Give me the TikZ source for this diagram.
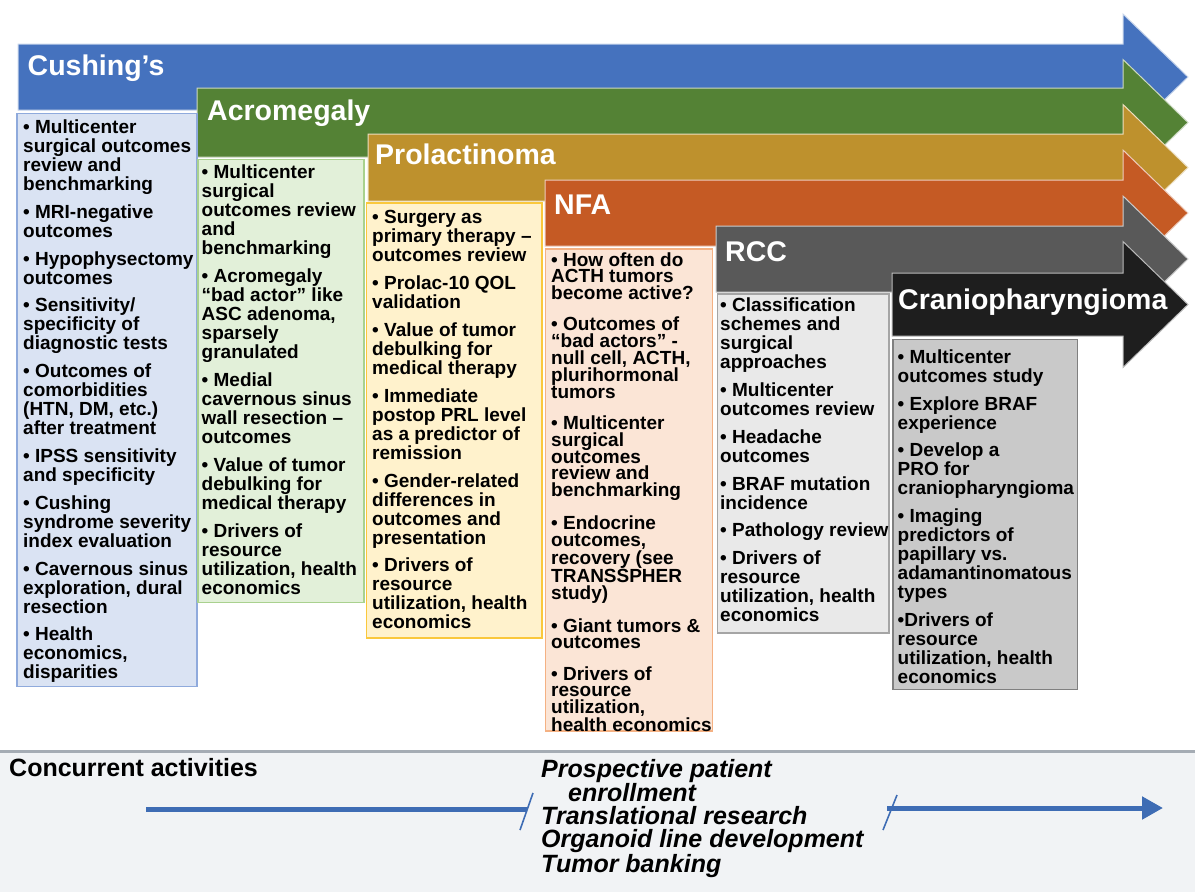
\documentclass[tikz,border=0pt]{standalone}
\usepackage{fontspec}
\setmainfont{Liberation Sans}
\usetikzlibrary{arrows.meta}

% band colours
\definecolor{cushblue}{RGB}{69,114,190}
\definecolor{acrogreen}{RGB}{84,130,53}
\definecolor{prolgold}{RGB}{190,145,45}
\definecolor{nfaorange}{RGB}{197,90,36}
\definecolor{rccgray}{RGB}{89,89,89}
\definecolor{cranblack}{RGB}{30,30,30}
% panel colours
\definecolor{cushfill}{RGB}{218,227,243}
\definecolor{cushline}{RGB}{143,170,220}
\definecolor{acrofill}{RGB}{226,240,217}
\definecolor{acroline}{RGB}{169,209,142}
\definecolor{prolfill}{RGB}{255,242,204}
\definecolor{prolline}{RGB}{250,200,60}
\definecolor{nfafill}{RGB}{251,229,214}
\definecolor{nfaline}{RGB}{244,177,131}
\definecolor{rccfill}{RGB}{233,233,233}
\definecolor{rccline}{RGB}{165,165,165}
\definecolor{cranfill}{RGB}{201,201,201}
\definecolor{cranline}{RGB}{128,128,128}
% concurrent activities strip
\definecolor{stripfill}{RGB}{241,243,245}
\definecolor{stripline}{RGB}{165,172,180}
\definecolor{flowblue}{RGB}{62,108,180}

\newcommand{\gapstd}{8.8pt}
\newcommand{\gapnfa}{14.5pt}
% a list whose reference point is the baseline of its first line
\newcommand{\toplist}[2][230pt]{\parbox[t]{#1}{\raggedright #2}}

% one stepped band ending in an arrow head: colour, left x, top y, bottom y
\newcommand{\trackband}[4]{%
  \fill[#1, draw=white!70!#1, line width=1pt]
    (#2,#3) -- (1123,#3) -- (1123,{(#3+#4)/2-63}) -- (1188,{(#3+#4)/2})
    -- (1123,{(#3+#4)/2+63}) -- (1123,#4) -- (#2,#4) -- cycle;}

\tikzset{
  head/.style={anchor=base west, inner sep=0pt, text=white,
    font=\fontsize{28.5}{30}\selectfont\bfseries},
  panel/.style={anchor=north west, inner sep=0pt, outer sep=0pt, line width=1.4pt},
  items/.style={anchor=base west, inner sep=0pt,
    font=\fontsize{19}{19}\selectfont\bfseries},
  nfaitems/.style={items, font=\fontsize{19}{16.7}\selectfont\bfseries},
  flow/.style={draw=flowblue, line width=5pt},
  slash/.style={draw=flowblue, line width=1.6pt},
}

\begin{document}
\begin{tikzpicture}[x=1pt,y=-1pt]
\useasboundingbox (0,0) rectangle (1195,892);

% stepped arrow bands, back to front
\trackband{cushblue}{18}{44}{110}
\trackband{acrogreen}{197}{88}{157}
\trackband{prolgold}{368}{134}{201}
\trackband{nfaorange}{545}{180}{246}
\trackband{rccgray}{716}{226}{292}
\trackband{cranblack}{892}{273}{336}

% band titles
\node[head] (tcush) at (27.5,75) {Cushing’s};
\node[head] (tacro) at (207,120) {Acromegaly};
\node[head] (tprol) at (375,164) {Prolactinoma};
\node[head] (tnfa)  at (554,214) {NFA};
\node[head] (trcc)  at (725,261.5) {RCC};
\node[head] (tcran) at (898,309) {Craniopharyngioma};

% project panels
\node[panel, fill=cushfill, draw=cushline, minimum width=180, minimum height=573] (pcush) at (17,113.5) {};
\node[panel, fill=acrofill, draw=acroline, minimum width=166, minimum height=443] (pacro) at (198,159.5) {};
\node[panel, fill=prolfill, draw=prolline, minimum width=175.5, minimum height=435] (pprol) at (366.5,203) {};
\node[panel, fill=nfafill, draw=nfaline, minimum width=167, minimum height=482] (pnfa) at (545.5,249) {};
\node[panel, fill=rccfill, draw=rccline, minimum width=171.5, minimum height=339] (prcc) at (717.5,294) {};
\node[panel, fill=cranfill, draw=cranline, minimum width=184.5, minimum height=350] (pcran) at (893,339.5) {};

\node[items] (lcush) at (23,133.5) {\toplist{• Multicenter\\surgical outcomes\\review and\\benchmarking\\[\gapstd]
• MRI-negative\\outcomes\\[\gapstd]
• Hypophysectomy\\outcomes\\[\gapstd]
• Sensitivity/\\specificity of\\diagnostic tests\\[\gapstd]
• Outcomes of\\comorbidities\\(HTN, DM, etc.)\\after treatment\\[\gapstd]
• IPSS sensitivity\\and specificity\\[\gapstd]
• Cushing\\syndrome severity\\index evaluation\\[\gapstd]
• Cavernous sinus\\exploration, dural\\resection\\[\gapstd]
• Health\\economics,\\disparities}};

\node[items] (lacro) at (201.5,178.8) {\toplist{• Multicenter\\surgical\\outcomes review\\and\\benchmarking\\[\gapstd]
• Acromegaly\\“bad actor” like\\ASC adenoma,\\sparsely\\granulated\\[\gapstd]
• Medial\\cavernous sinus\\wall resection –\\outcomes\\[\gapstd]
• Value of tumor\\debulking for\\medical therapy\\[\gapstd]
• Drivers of\\resource\\utilization, health\\economics}};

\node[items] (lprol) at (372,223.8) {\toplist{• Surgery as\\primary therapy –\\outcomes review\\[\gapstd]
• Prolac-10 QOL\\validation\\[\gapstd]
• Value of tumor\\debulking for\\medical therapy\\[\gapstd]
• Immediate\\postop PRL level\\as a predictor of\\remission\\[\gapstd]
• Gender-related\\differences in\\outcomes and\\presentation\\[\gapstd]
• Drivers of\\resource\\utilization, health\\economics}};

\node[nfaitems] (lnfa) at (551,266) {\toplist{• How often do\\ACTH tumors\\become active?\\[\gapnfa]
• Outcomes of\\“bad actors” -\\null cell, ACTH,\\plurihormonal\\tumors\\[\gapnfa]
• Multicenter\\surgical\\outcomes\\review and\\benchmarking\\[\gapnfa]
• Endocrine\\outcomes,\\recovery (see\\TRANSSPHER\\study)\\[\gapnfa]
• Giant tumors \&\\outcomes\\[\gapnfa]
• Drivers of\\resource\\utilization,\\health economics}};

\node[items] (lrcc) at (720,311.7) {\toplist{• Classification\\schemes and\\surgical\\approaches\\[\gapstd]
• Multicenter\\outcomes review\\[\gapstd]
• Headache\\outcomes\\[\gapstd]
• BRAF mutation\\incidence\\[\gapstd]
• Pathology review\\[\gapstd]
• Drivers of\\resource\\utilization, health\\economics}};

\node[items] (lcran) at (897.5,363.3) {\toplist{• Multicenter\\outcomes study\\[\gapstd]
• Explore BRAF\\experience\\[\gapstd]
• Develop a\\PRO for\\craniopharyngioma\\[\gapstd]
• Imaging\\predictors of\\papillary vs.\\adamantinomatous\\types\\[\gapstd]
•Drivers of\\resource\\utilization, health\\economics}};

% concurrent activities strip
\node[anchor=north west, inner sep=0pt, outer sep=0pt, fill=stripfill,
  minimum width=1195, minimum height=141] (strip) at (0,751) {};
\draw[stripline, line width=3pt] (strip.north west) -- (strip.north east);

\node[anchor=base west, inner sep=0pt, font=\fontsize{25}{25}\selectfont\bfseries]
  (conc) at (9,776) {Concurrent activities};
\node[anchor=base west, inner sep=0pt,
  font=\fontsize{25}{23.3}\selectfont\bfseries\itshape] (activ) at (541,777)
  {\toplist[400pt]{Prospective patient\\\hspace*{27pt}enrollment\\Translational research\\Organoid line development\\Tumor banking}};

\coordinate (fa) at (146,809);
\coordinate (fb) at (527,809);
\coordinate (sa) at (533,793);
\coordinate (sb) at (520,830);
\coordinate (ta) at (897,795);
\coordinate (tb) at (883,830);
\coordinate (ga) at (887,808);
\coordinate (gb) at (1163,808);
\draw[flow] (fa) -- (fb);
\draw[slash] (sa) -- (sb);
\draw[slash] (ta) -- (tb);
\draw[flow, -{Triangle[length=21pt, width=22pt]}] (ga) -- (gb);
\end{tikzpicture}
\end{document}
